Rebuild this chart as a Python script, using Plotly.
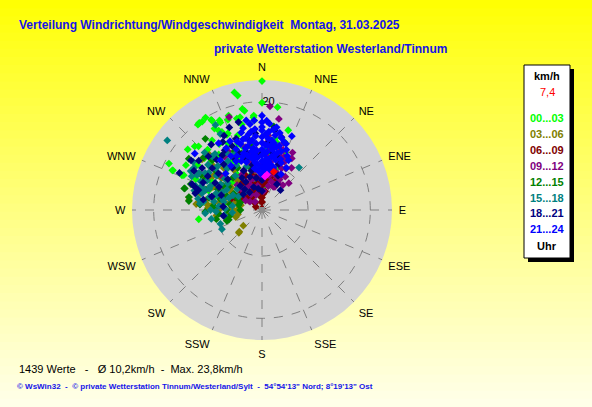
import plotly.graph_objects as go

W, H = 592, 407

# compass directions (deg, clockwise from N) and their names
dir_ticks = [0, 22.5, 45, 67.5, 90, 112.5, 135, 157.5, 180, 202.5, 225, 247.5, 270, 292.5, 315, 337.5]
dir_names = ["N", "NNE", "NE", "ENE", "E", "ESE", "SE", "SSE", "S", "SSW", "SW", "WSW", "W", "WNW", "NW", "NNW"]

ring_vals = [8.5, 20]
ring_text = ["", "20"]

hour_labels = ["00...03", "03...06", "06...09", "09...12", "12...15", "15...18", "18...21", "21...24"]
hour_colors = ["#00FF00", "#808000", "#800000", "#800080", "#008000", "#008080", "#000080", "#0000FF"]

# wind direction (deg) / speed (km/h) per 3-hour block
dir_00 = [0, 346.8, 348, 0, 8.6, 349, 350, 340.5, 355, 355, 18.2, 18.6, 22, 296.5, 293.9, 293.5, 261.7,
          323.9, 325.9, 328.6, 330.8, 334.6, 339.3, 330.6, 324.4, 323.1, 334.6, 329.7, 331.4, 344.6, 346.7,
          332.8, 335, 324.3, 309.2, 315.1, 313.4, 312, 313.9, 346.7, 354.7, 10.3, 16, 294, 300.5, 294, 286.6,
          340, 338, 342, 336, 330, 333, 327, 320, 322, 318, 310, 305, 300, 350, 352, 5, 355, 345, 325,
          300, 290, 280, 15, 335, 3, 8, 12, 20, 347, 315, 295, 285, 275, 343, 328, 312,
          345, 330, 320, 5]
spd_00 = [23.8, 22.3, 21.6, 19.8, 19.2, 19.0, 18.6, 18.5, 17.5, 16.6, 15.5, 13.2, 11.5, 19.2, 18.1, 16.1, 11.8,
          19.8, 19.7, 20.0, 18.9, 17.9, 17.8, 19.1, 19.8, 19.7, 18.3, 17.4, 16.7, 17.5, 16.2,
          16.2, 15.3, 15.8, 17.7, 16.6, 17.1, 14.3, 13.0, 17.6, 17.2, 13.4, 10.6, 18.0, 16.3, 15.8, 9.0,
          13.0, 11.5, 14.5, 15.5, 12.0, 13.8, 14.5, 11.0, 13.0, 15.0, 12.5, 14.5, 11.0, 10.5, 12.5, 11.5, 8.0, 7.0, 8.0,
          8.0, 10.5, 7.0, 6.5, 10.0, 14.0, 10.5, 12.8, 8.5, 9.0, 9.5, 13.5, 12.5, 10.0, 12.2, 10.5, 7.5,
          5.0, 3.5, 6.5, 4.5]

dir_03 = [270, 273.2, 275, 278, 280, 282, 285, 288, 290, 292, 295, 295, 298, 300, 302, 305, 308, 310,
          310.2, 312, 316.4, 318, 320, 325, 265, 268, 270, 272, 275, 275.2, 277.7, 279.8, 280, 283, 285,
          290, 300, 260, 263, 255, 226.3, 225.4, 230, 287, 293, 300, 306]
spd_03 = [4.6, 5.6, 7.5, 9.0, 8.0, 6.2, 9.5, 7.3, 7.0, 10.5, 10.0, 6.0, 8.5, 9.0, 11.5, 11.0, 9.5, 8.5,
          14.5, 12.0, 14.1, 10.5, 7.0, 9.0, 6.5, 8.2, 8.0, 10.0, 10.0, 12.2, 13.6, 13.7, 10.5, 4.0, 11.8,
          12.0, 12.5, 4.5, 8.5, 5.0, 5.8, 6.0, 4.5, 5.0, 4.2, 6.5, 7.0]

dir_06 = [0, 0, 0, 0, 0, 0, 0, 0, 357, 357, 357, 5, 5, 5, 10, 10, 11.2, 16.2, 20.4, 25,
          350, 350, 350, 345, 345, 340, 340, 335, 335, 330, 330,
          325, 325, 320, 320, 315, 315, 310, 310, 305, 305, 300,
          297.6, 313.7, 295, 290]
spd_06 = [0.3, 1.5, 2.3, 3.1, 3.8, 4.5, 5.2, 6.0, 1.5, 2.3, 3.1, 5.0, 7.8, 3.0, 3.5, 5.6, 5.9, 6.4, 6.9, 6.0,
          3.0, 5.0, 6.2, 4.0, 6.5, 4.0, 5.2, 3.5, 7.0, 5.5, 4.3,
          3.0, 6.2, 6.0, 4.0, 4.5, 2.5, 5.0, 3.5, 5.0, 3.0, 4.2,
          1.3, 1.8, 5.5, 6.0]

dir_09 = [0, 0, 4.4, 4.8, 4.8, 5, 6.6, 8, 10, 10, 10.5, 12, 14.7, 15, 15, 16.1, 16.5, 18, 18, 19.5,
          20, 20, 20.3, 22.7, 25, 25, 25.9, 26.6, 28, 30, 30, 30, 35, 35, 340.5, 355, 355, 350, 350,
          345, 345, 345, 340, 340, 335, 335, 330, 330, 325, 325, 320, 320, 315, 310, 304.7, 300, 290,
          29.7, 30.6, 40, 22, 45, 29, 350, 335, 340, 325, 5, 315, 300]
spd_09 = [8.5, 5.5, 19.2, 13.8, 12.6, 10.0, 9.6, 11.5, 9.0, 7.2, 17.1, 6.5, 4.55, 8.0, 10.0, 11.9, 10.5, 5.5, 13.0, 11.7,
          7.5, 9.0, 10.4, 10.6, 8.5, 9.8, 4.75, 5.3, 12.0, 6.5, 8.8, 11.0, 7.5, 9.5, 18.2, 6.0, 11.0, 7.5, 10.5,
          9.0, 6.0, 12.0, 6.0, 11.0, 11.0, 8.0, 7.5, 12.5, 12.0, 5.0, 2.0, 8.0, 6.5, 10.0, 2.7, 5.0, 7.5,
          7.4, 5.8, 6.0, 6.8, 7.0, 4.9, 4.5, 5.0, 3.0, 3.5, 3.5, 5.5, 3.5]

dir_12 = [254, 253, 253.5, 258.6, 260, 265, 268, 270, 272, 275, 275, 277, 280, 280, 282, 283, 285, 285.5,
          285.6, 288, 288.4, 290, 290, 292, 295, 295, 298, 300, 300, 302, 305, 305, 308, 310, 312, 315,
          318, 320, 321.5, 325, 330, 335, 340, 345, 8, 350, 270]
spd_12 = [6.7, 6.8, 6.4, 8.6, 6.0, 8.0, 10.5, 6.5, 8.8, 9.0, 11.5, 13.6, 6.0, 13.7, 4.4, 10.0, 8.0, 14.9,
          14.8, 11.8, 4.25, 11.0, 14.0, 7.0, 9.0, 5.0, 12.0, 13.0, 6.0, 8.5, 7.5, 16.5, 10.5, 11.0, 14.5, 13.0,
          8.0, 10.0, 16.8, 12.5, 9.0, 12.0, 11.0, 8.0, 15.6, 12.0, 4.0]

dir_15 = [41.1, 306.3, 244.4, 251.6, 331.3, 331.3, 266.7, 278, 285.5, 289.3, 291.5, 295.6, 298.6, 301.9,
          298.2, 300.4, 260, 262, 265, 268, 270, 272, 275, 276, 278, 280, 280, 282, 284, 285, 286, 288,
          290, 290, 290, 292, 294, 295, 295, 297, 298, 300, 300, 302, 303, 305, 305, 307, 308, 310, 310,
          312, 315, 315, 317, 320, 320, 322, 325, 328, 330, 335, 340, 320, 300, 310]
spd_15 = [10.4, 21.7, 8.2, 8.1, 17.9, 16.0, 10.5, 10.9, 11.5, 11.1, 12.0, 14.4, 15.0, 14.8,
          13.6, 13.5, 9.5, 7.0, 5.5, 8.5, 9.5, 6.8, 8.0, 11.5, 5.5, 9.0, 12.0, 7.2, 10.0, 7.5, 13.0, 8.8,
          9.0, 6.5, 13.0, 10.5, 8.0, 10.5, 12.5, 6.0, 11.5, 10.0, 7.5, 9.0, 12.5, 12.0, 15.5, 10.5, 8.0, 13.0, 9.0,
          11.5, 11.5, 15.0, 13.5, 13.5, 10.0, 8.0, 11.0, 12.5, 9.5, 11.5, 8.5, 4.5, 5.0, 6.0]

dir_18 = [345, 43, 338.4, 322.2, 323.8, 8.5, 9.2, 15, 294.2, 290.3, 289, 284, 287.4, 261.2,
          350, 345, 340, 335, 330, 320, 315, 310, 305, 300, 295, 5, 0, 355, 10, 20, 348, 335, 325, 310,
          300, 290, 280, 350, 0, 30, 305, 342, 338, 332, 328, 318, 312, 308, 302, 298, 285, 275, 328,
          318, 355, 2, 15, 25, 340, 333, 340, 330, 350, 320, 310, 0, 345, 325]
spd_18 = [16.8, 5.0, 16.4, 15.3, 12.5, 15.3, 14.9, 13.9, 16.7, 13.8, 13.1, 12.7, 12.3, 7.2,
          13.0, 11.0, 14.0, 13.0, 14.5, 11.0, 14.0, 12.0, 13.5, 14.5, 12.0, 12.5, 10.5, 10.0, 10.8, 9.0, 8.5, 8.0, 9.5, 10.5,
          10.0, 8.0, 11.0, 6.0, 5.5, 5.5, 16.0, 9.8, 11.2, 10.6, 13.0, 12.5, 8.5, 14.8, 11.8, 9.0, 9.6, 7.2, 7.0,
          6.0, 14.2, 8.0, 10.3, 7.0, 6.5, 15.4, 4.5, 6.0, 4.0, 5.0, 4.5, 3.5, 7.5, 4.0]

dir_21 = [0, 0, 0, 0, 0, 0, 0, 0, 0, 0, 0, 3, 3, 3, 3, 3, 3, 5, 5, 5, 5, 5, 5, 5, 5, 8, 8, 8, 8, 8,
          10, 10, 10, 10, 10, 10, 10, 13, 13, 13, 15, 15, 15, 15, 15, 18, 18, 20, 20, 22, 22, 22, 25,
          28, 28, 30, 355, 355, 355, 355, 355, 355, 355, 355, 352, 352, 352, 352, 352, 352,
          350, 350, 350, 350, 350, 350, 347, 347, 347, 347, 345, 345, 345, 345, 342, 342, 342,
          340, 340, 337, 337, 335, 335, 332, 330, 330, 327, 325, 320, 315, 310]
spd_21 = [17.4, 16.2, 15.3, 14.7, 13.5, 12.4, 11.2, 10.1, 9.0, 7.8, 6.5, 16.5, 14.0, 12.0, 10.5, 8.8, 7.2,
          16.0, 14.5, 13.2, 12.0, 10.8, 9.5, 8.3, 7.0, 15.0, 13.0, 11.8, 9.0, 7.8,
          15.5, 14.0, 12.6, 11.3, 10.0, 8.6, 7.4, 14.6, 12.0, 10.4, 13.8, 12.3, 10.9, 9.6, 8.2, 13.2, 11.4,
          13.0, 10.0, 14.7, 9.4, 12.0, 11.0, 7.5, 10.4, 9.0, 16.6, 15.0, 13.7, 12.3, 11.0, 9.7, 8.4, 7.2,
          16.0, 14.6, 13.0, 11.5, 10.2, 8.8, 16.8, 14.2, 12.8, 11.0, 9.5, 7.8, 15.5, 13.6, 12.0, 10.0,
          13.5, 11.8, 10.5, 14.8, 12.8, 11.0, 9.3, 10.5, 13.5, 12.2, 9.8, 11.0, 14.0, 10.2, 11.5, 13.2,
          14.7, 10.0, 12.0, 9.5, 16.2]

# current value (red) and the two pink readings
cur_dir = [17]
cur_spd = [7.4]
pink_dir = [5, 8]
pink_spd = [6.2, 6.6]

dirs = [dir_00, dir_03, dir_06, dir_09, dir_12, dir_15, dir_18, dir_21]
spds = [spd_00, spd_03, spd_06, spd_09, spd_12, spd_15, spd_18, spd_21]

n_values = 1439
avg_speed = "10,2"
max_speed = "23,8"

FONT = "Liberation Sans, Arial, sans-serif"
BLUE = "#1414E8"


def px(x):
    return x / W


def py(y):
    return 1 - y / H


fig = go.Figure()

for d, s, lab, col in zip(dirs, spds, hour_labels, hour_colors):
    fig.add_trace(go.Scatterpolar(
        r=s, theta=d, mode="markers", name=lab,
        marker=dict(symbol="diamond", size=6, color=col, line=dict(width=0)),
    ))

fig.add_trace(go.Scatterpolar(r=pink_spd, theta=pink_dir, mode="markers",
                              marker=dict(symbol="diamond", size=6, color="#FF00FF")))
fig.add_trace(go.Scatterpolar(r=cur_spd, theta=cur_dir, mode="markers",
                              marker=dict(symbol="diamond", size=6, color="#FF0000")))
fig.add_trace(go.Scatterpolar(r=[0], theta=[0], mode="markers",
                              marker=dict(symbol="square", size=6, color="#8C8C8C")))

# yellow background fading to pale at the bottom
shapes = []
bands = 50
for i in range(bands):
    t = (i + 0.5) / bands
    b = int(235 * t ** 0.9)
    shapes.append(dict(type="rect", xref="paper", yref="paper", x0=0, x1=1,
                       y0=1 - (i + 1) / bands - 0.002, y1=1 - i / bands,
                       fillcolor=f"rgb(255,255,{b})", line=dict(width=0), layer="below"))

# legend box with drop shadow
shapes.append(dict(type="rect", xref="paper", yref="paper", x0=px(528), x1=px(574), y0=py(262), y1=py(69),
                   fillcolor="black", line=dict(width=0)))
shapes.append(dict(type="rect", xref="paper", yref="paper", x0=px(524), x1=px(570), y0=py(258), y1=py(65),
                   fillcolor="white", line=dict(color="black", width=1)))

ann = []


def label(x, y, text, size=12, color="black", bold=False, anchor="center"):
    if bold:
        text = "<b>" + text + "</b>"
    ann.append(dict(x=px(x), y=py(y), xref="paper", yref="paper", text=text, showarrow=False,
                    xanchor=anchor, yanchor="middle", borderpad=0,
                    font=dict(size=size, color=color, family=FONT)))


nb = "\u00a0"
label(18, 25, f"Verteilung Windrichtung/Windgeschwindigkeit{nb*2}Montag, 31.03.2025", 12, BLUE, True, anchor="left")
label(213, 49, "private Wetterstation Westerland/Tinnum", 12, BLUE, True, anchor="left")

label(547, 76, "km/h", 11, "black", True)
label(547, 92, "7,4", 11, "#FF0000")
leg_y = [118, 134, 150, 166, 182, 198, 213, 229]
for lab, col, yy in zip(hour_labels, hour_colors, leg_y):
    label(547, yy, lab, 11, col, True)
label(547, 246, "Uhr", 11, "black", True)

label(18, 369, f"{n_values} Werte{nb*3}-{nb*3}Ø {avg_speed}km/h{nb*2}-{nb*2}Max. {max_speed}km/h", 11, "black", anchor="left")
label(16, 386, f"© WsWin32{nb*2}-{nb*2}© private Wetterstation Tinnum/Westerland/Sylt{nb*2}-{nb*2}54°54'13\" Nord; 8°19'13\" Ost",
      8, BLUE, True, anchor="left")

fig.update_layout(
    width=W, height=H, autosize=False,
    margin=dict(l=0, r=0, t=0, b=0),
    paper_bgcolor="#FFFF80",
    showlegend=False,
    shapes=shapes,
    annotations=ann,
    polar=dict(
        domain=dict(x=[px(132), px(392)], y=[py(340), py(80)]),
        bgcolor="#D4D4D4",
        angularaxis=dict(
            rotation=90, direction="clockwise",
            tickmode="array", tickvals=dir_ticks, ticktext=dir_names,
            showline=False, ticks="outside", ticklen=4, tickcolor="rgba(0,0,0,0)", layer="below traces",
            gridcolor="#808080", griddash="dash", gridwidth=1,
            tickfont=dict(size=11, color="black", family=FONT),
        ),
        radialaxis=dict(
            range=[0, 24], tickmode="array", tickvals=ring_vals, ticktext=ring_text,
            angle=90, tickangle=90, side="clockwise", showline=False, ticks="", layer="below traces",
            gridcolor="#808080", griddash="dash", gridwidth=1,
            tickfont=dict(size=11, color="black", family=FONT),
        ),
    ),
)

fig.write_html("out.html", config={"displayModeBar": False},
               post_script="document.body.style.margin='0';")
